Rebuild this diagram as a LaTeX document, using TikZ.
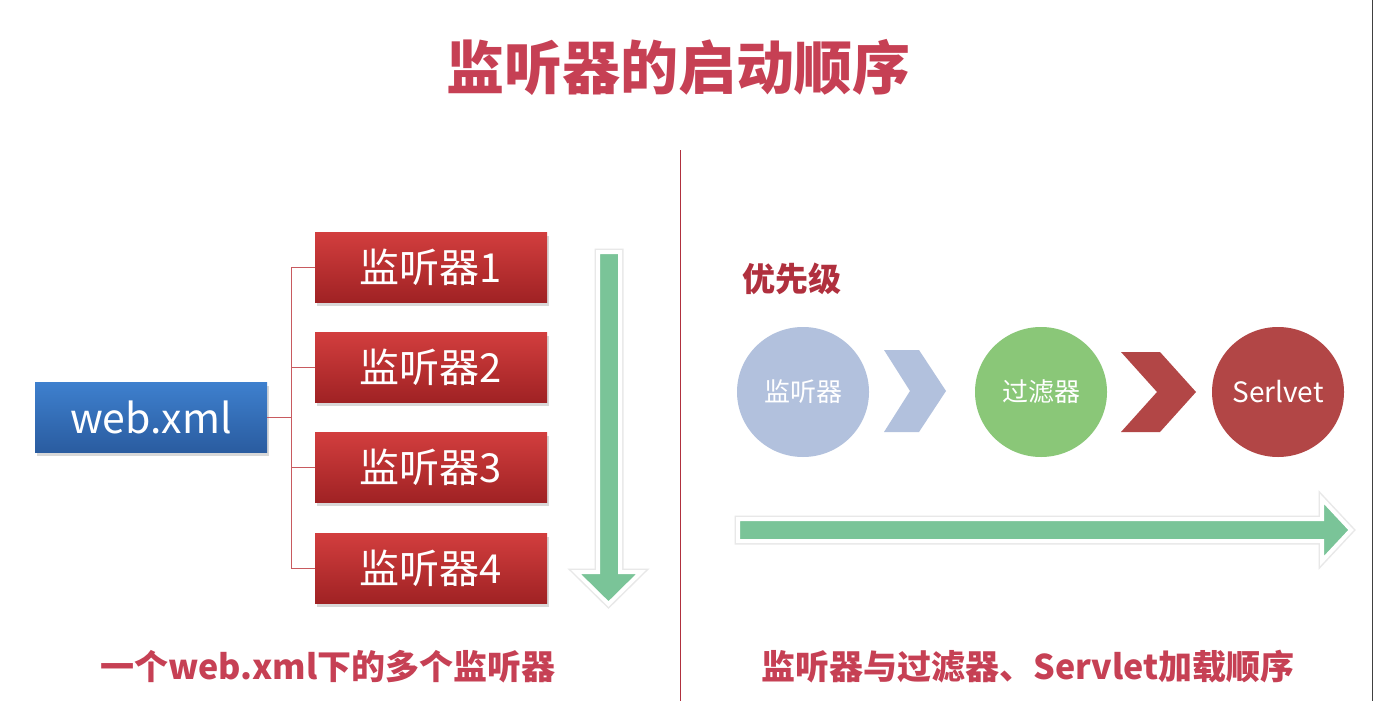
\documentclass[tikz,border=0pt]{standalone}
\usepackage{fontspec}
\setmainfont{Noto Sans CJK SC}
\usetikzlibrary{shadows,shapes.geometric,calc}
\definecolor{titlered}{RGB}{198,64,84}
\definecolor{darkred}{RGB}{176,48,62}
\definecolor{boxtop}{RGB}{210,62,62}
\definecolor{boxbot}{RGB}{160,34,36}
\definecolor{bluetop}{RGB}{62,128,206}
\definecolor{bluebot}{RGB}{42,92,160}
\definecolor{arrowgreen}{RGB}{122,196,152}
\definecolor{lav}{RGB}{178,193,221}
\definecolor{leaf}{RGB}{138,199,120}
\definecolor{brick}{RGB}{178,70,70}
\definecolor{connred}{RGB}{200,90,95}
\tikzset{
  redbox/.style={rectangle, minimum width=232pt, minimum height=70pt, top color=boxtop, bottom color=boxbot, text=white, font=\fontsize{40}{46}\selectfont, drop shadow={shadow xshift=2pt, shadow yshift=-4pt, opacity=0.3}},
  bluebox/.style={rectangle, minimum width=232pt, minimum height=70pt, top color=bluetop, bottom color=bluebot, text=white, font=\fontsize{41}{46}\selectfont, drop shadow={shadow xshift=2pt, shadow yshift=-4pt, opacity=0.3}},
  conn/.style={draw=connred, line width=1pt},
  circ/.style={ellipse, minimum width=132pt, minimum height=130pt, inner sep=0pt, text=white, font=\fontsize{26}{30}\selectfont},
  arrowhalo/.style={draw=black!9, line width=7pt, line join=miter},
  bigarrow/.style={fill=arrowgreen, draw=white, line width=4pt, line join=miter},
  headline/.style={text=titlered, font=\fontsize{34}{40}\selectfont\bfseries},
}
\begin{document}
\begin{tikzpicture}[x=1pt,y=-1pt]
\useasboundingbox (0,0) rectangle (1375,701);
\fill[white] (0,0) rectangle (1375,701);
% title
\node[text=titlered, font=\fontsize{58}{64}\selectfont\bfseries] (title) at (678,67) {监听器的启动顺序};
% divider
\draw[draw=darkred, line width=1pt] (680,150) coordinate (dtop) -- (680,701) coordinate (dbot);
\draw[draw=black!75, line width=1.5pt] (1372.5,0) coordinate (etop) -- (1372.5,701) coordinate (ebot);
% left side
\node[bluebox] (web) at (151,417) {web.xml};
\node[redbox] (l1) at (431,267) {监听器1};
\node[redbox] (l2) at (431,367) {监听器2};
\node[redbox] (l3) at (431,467) {监听器3};
\node[redbox] (l4) at (431,568) {监听器4};
\coordinate (j) at (291,417);
\draw[conn] (web.east) -- (j);
\draw[conn] (j) |- (l1.west);
\draw[conn] (j) |- (l2.west);
\draw[conn] (j) |- (l3.west);
\draw[conn] (j) |- (l4.west);
% vertical green arrow
\path[arrowhalo] (598,252) -- (620,252) -- (620,572) -- (641,572) -- (608.5,604) -- (576,572) -- (598,572) -- cycle;
\path[bigarrow] (598,252) -- (620,252) -- (620,572) -- (641,572) -- (608.5,604) -- (576,572) -- (598,572) -- cycle;
% right side
\node[text=darkred, font=\fontsize{33}{38}\selectfont\bfseries] (prio) at (792,279) {优先级};
\node[circ, fill=lav] (c1) at (803,392) {监听器};
\node[circ, fill=leaf] (c2) at (1041,392) {过滤器};
\node[circ, fill=brick, font=\fontsize{28}{32}\selectfont] (c3) at (1278,392) {Serlvet};
\fill[lav] (884,350) -- (919,350) -- (946,391) -- (919,432) -- (884,432) -- (910,391) -- cycle;
\fill[brick] (1121,352) -- (1160,352) -- (1196,392) -- (1160,432) -- (1121,432) -- (1157,392) -- cycle;
% horizontal green arrow
\path[arrowhalo] (738,519) -- (1322,519) -- (1322,499) -- (1351,530) -- (1322,561) -- (1322,541) -- (738,541) -- cycle;
\path[bigarrow] (738,519) -- (1322,519) -- (1322,499) -- (1351,530) -- (1322,561) -- (1322,541) -- (738,541) -- cycle;
% captions
\node[headline] (capl) at (328,667) {一个web.xml下的多个监听器};
\node[headline] (capr) at (1028,667) {监听器与过滤器、Servlet加载顺序};
\end{tikzpicture}
\end{document}
